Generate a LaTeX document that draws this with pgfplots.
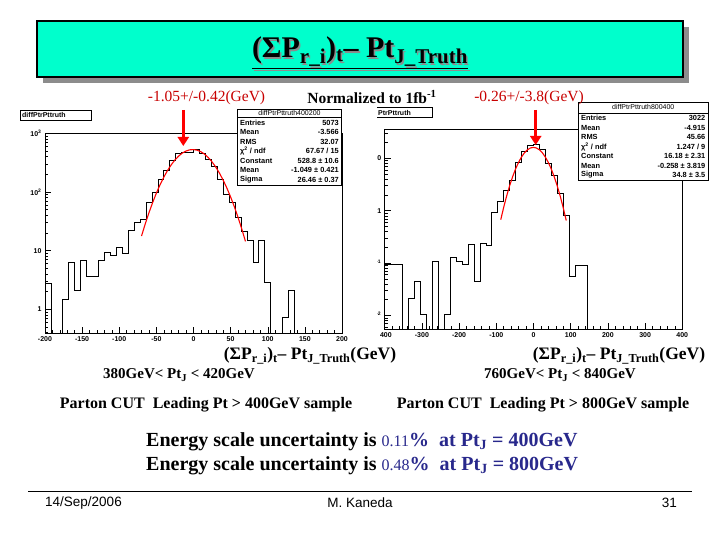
\documentclass[border=0pt]{standalone}
\usepackage{pgfplots}
\pgfplotsset{compat=1.18}
\usetikzlibrary{arrows.meta}
\usepackage{fontspec}
\setmainfont{Liberation Serif}
\newfontfamily\arial{Liberation Sans}
\definecolor{titlecyan}{RGB}{0,255,204}
\definecolor{navy}{RGB}{40,40,140}
\definecolor{darkred}{RGB}{200,0,0}

\pgfplotstableread{
x y
-200 0.001
-200 2.8
-192 0.001
-184 0.001
-176 1.45
-168 6.3
-160 2.1
-152 6.9
-144 3.7
-136 3.7
-128 6.9
-120 9.2
-112 8.4
-104 11.4
-96 9.0
-88 21.9
-80 30
-72 34
-64 66
-56 98
-48 166
-40 237
-32 342
-24 457
-16 475
-8 475
0 523
8 457
16 365
24 277
32 165
40 92
48 66
56 37
64 21.7
72 15.2
80 6.3
88 15.2
96 2.85
104 0.001
112 0.001
120 0.73
128 2.1
136 0.001
200 0.001
}\histA

\pgfplotstableread{
x y
-400 0.0001
-400 0.095
-384 0.095
-368 0.095
-352 0.0001
-336 0.021
-320 0.045
-304 0.0105
-288 0.0001
-272 0.106
-256 0.0001
-240 0.0105
-224 0.126
-208 0.106
-192 0.095
-176 0.228
-160 0.045
-144 0.238
-128 0.22
-112 0.92
-96 1.53
-80 2.48
-64 3.86
-48 8.3
-32 13.5
-16 17.5
0 18.7
16 15.1
32 8.0
48 4.8
64 2.14
80 0.80
96 0.056
112 0.091
128 0.091
144 0.0001
400 0.0001
}\histB

\begin{document}
\begin{tikzpicture}[x=1pt,y=1pt]
\useasboundingbox (0,0) rectangle (720,-540);
\fill[white] (0,0) rectangle (720,-540);

% ---------- title box
\fill[black!45] (43,-27) rectangle (689,-83);
\filldraw[fill=titlecyan, draw=black, line width=1.2pt] (37,-21) rectangle (683,-77);
\node[anchor=base, text=black!45, font=\fontsize{30}{32}\selectfont\bfseries, inner sep=0pt] at (361.5,-59.5)
  {\underline{(ΣP\textsubscript{r\_i})\textsubscript{t}– Pt\textsubscript{J\_Truth}}};
\node[anchor=base, font=\fontsize{30}{32}\selectfont\bfseries, inner sep=0pt] at (360,-58)
  {\underline{(ΣP\textsubscript{r\_i})\textsubscript{t}– Pt\textsubscript{J\_Truth}}};

% ---------- right histogram (behind)
\begin{axis}[
  scale only axis, ymode=log,
  axis line style={black, line width=0.7pt},
  tick pos=left, tick align=inside,
  major tick length=6pt, minor tick length=3pt,
  tick style={black, line width=0.5pt},
  ticklabel style={font=\arial\bfseries\fontsize{7}{8}\selectfont},
  at={(384.7pt,-329pt)}, anchor=south west,
  width=297.6pt, height=199.3pt,
  xmin=-400, xmax=400, ymin=0.0055, ymax=35.2,
  xtick={-400,-300,...,400},
  xticklabels={-400,-300,-200,-100,0,100,200,300,400},
  minor xtick={-380,-360,...,380},
  ytick={0.01,0.1,1,10},
  yticklabels={10\textsuperscript{-2},10\textsuperscript{-1},1,10},
  minor ytick={0.006,0.007,0.008,0.009,0.02,0.03,0.04,0.05,0.06,0.07,0.08,0.09,0.2,0.3,0.4,0.5,0.6,0.7,0.8,0.9,2,3,4,5,6,7,8,9,20,30},
]
\addplot[const plot, black, line width=0.7pt] table[x=x,y=y] {\histB};
\addplot[red, line width=1.1pt] coordinates {
(-88,0.6739) (-80,1.1717) (-72,1.9324) (-64,3.0231) (-56,4.4859) (-48,6.3137)
(-40,8.4290) (-32,10.6738) (-24,12.8204) (-16,14.6064) (-8,15.7844) (0,16.1796)
(8,15.7309) (16,14.5073) (24,12.6900) (32,10.5291) (40,8.2866) (48,6.1859)
(56,4.3801) (64,2.9417) (72,1.8740) (80,1.1324) (88,0.6490)};
\end{axis}

% left picture covers part of the right one
\fill[white] (343,-100) rectangle (377,-350);
\fill[white] (343,-331) rectangle (379.5,-350);

% ---------- left histogram
\begin{axis}[
  scale only axis, ymode=log,
  axis line style={black, line width=0.7pt},
  tick pos=left, tick align=inside,
  major tick length=6pt, minor tick length=3pt,
  tick style={black, line width=0.5pt},
  ticklabel style={font=\arial\bfseries\fontsize{7}{8}\selectfont},
  at={(45pt,-333.3pt)}, anchor=south west,
  width=297pt, height=200pt,
  xmin=-200, xmax=200, ymin=0.39, ymax=1000,
  xtick={-200,-150,...,200},
  xticklabels={-200,-150,-100,-50,0,50,100,150,200},
  minor xtick={-190,-180,...,190},
  ytick={1,10,100,1000},
  yticklabels={1,10,10\textsuperscript{2},10\textsuperscript{3}},
  minor ytick={0.4,0.5,0.6,0.7,0.8,0.9,2,3,4,5,6,7,8,9,20,30,40,50,60,70,80,90,200,300,400,500,600,700,800,900},
]
\addplot[const plot, black, line width=0.7pt] table[x=x,y=y] {\histA};
\addplot[red, line width=1.1pt] coordinates {
(-70,17.74) (-65,28.50) (-60,44.20) (-55,66.15) (-50,95.52) (-45,133.10)
(-40,178.96) (-35,232.16) (-30,290.63) (-25,351.04) (-20,409.17) (-15,460.18)
(-10,499.39) (-5,522.94) (0,528.38) (5,515.16) (10,484.65) (15,439.95)
(20,385.37) (25,325.72) (30,265.65) (35,209.05) (40,158.74) (45,116.30)
(50,82.22) (55,56.09) (60,36.93) (65,23.45) (70,14.38)};
\end{axis}

% ---------- ROOT title boxes
\draw[black, line width=0.6pt, fill=white] (20,-110) rectangle (91,-120.7);
\node[font=\arial\bfseries\fontsize{7}{8}\selectfont, anchor=west, inner sep=0pt] at (22,-115.4) {diffPtrPttruth};
\fill[white] (377,-107.7) rectangle (432,-117.3);
\draw[black, line width=0.6pt] (377,-107.7) -- (432,-107.7) -- (432,-117.3) -- (377,-117.3);
\node[font=\arial\bfseries\fontsize{7}{8}\selectfont, anchor=west, inner sep=0pt] at (378,-112.5) {PtrPttruth};

% ---------- stats boxes
\def\statfont{\arial\bfseries\fontsize{7.4}{8}\selectfont}
\filldraw[fill=white, draw=black, line width=0.6pt] (237.3,-109) rectangle (341.7,-185);
\draw[black, line width=0.6pt] (237.3,-117.3) -- (341.7,-117.3);
\node[font=\arial\fontsize{7}{7.5}\selectfont, inner sep=0pt] at (289.5,-113.2) {diffPtrPttruth400200};
\foreach \lab/\val [count=\i from 0] in {Entries/5073, Mean/-3.566, RMS/32.07, {χ\textsuperscript{2} / ndf}/{67.67 / 15}, Constant/528.8 ± 10.6, Mean/-1.049 ± 0.421, Sigma/26.46 ± 0.37}{
  \node[font=\statfont, anchor=west, inner sep=0pt] at (240,-122.5-9.55*\i) {\lab};
  \node[font=\statfont, anchor=east, inner sep=0pt] at (339,-122.5-9.55*\i) {\val};
}
\filldraw[fill=white, draw=black, line width=0.6pt] (578.3,-102) rectangle (708.3,-180.7);
\draw[black, line width=0.6pt] (578.3,-113) -- (708.3,-113);
\node[font=\arial\fontsize{7}{7.5}\selectfont, inner sep=0pt] at (643.3,-107.5) {diffPtrPttruth800400};
\foreach \lab/\val [count=\i from 0] in {Entries/3022, Mean/-4.915, RMS/45.66, {χ\textsuperscript{2} / ndf}/{1.247 / 9}, Constant/16.18 ± 2.31, Mean/-0.258 ± 3.819, Sigma/34.8 ± 3.5}{
  \node[font=\statfont, anchor=west, inner sep=0pt] at (581,-118.3-9.45*\i) {\lab};
  \node[font=\statfont, anchor=east, inner sep=0pt] at (705.5,-118.3-9.45*\i) {\val};
}

% ---------- annotations above plots
\node[text=darkred, font=\fontsize{15.5}{16}\selectfont, inner sep=0pt] at (206.5,-98) {-1.05+/-0.42(GeV)};
\node[text=darkred, font=\fontsize{15.5}{16}\selectfont, inner sep=0pt] at (529,-98) {-0.26+/-3.8(GeV)};
\node[font=\fontsize{15.5}{16}\selectfont\bfseries, inner sep=0pt] at (372,-97) {Normalized to 1fb\textsuperscript{-1}};
\draw[red, line width=3.5pt, -{Triangle[width=11pt,length=9pt]}] (183.3,-110) -- (183.3,-146);
\draw[red, line width=3.5pt, -{Triangle[width=11pt,length=9pt]}] (535.7,-110) -- (535.7,-145);

% ---------- texts below plots
\node[font=\fontsize{17.5}{18}\selectfont\bfseries, inner sep=0pt] at (310,-356)
  {(ΣP\textsubscript{r\_i})\textsubscript{t}– Pt\textsubscript{J\_Truth}(GeV)};
\node[font=\fontsize{17.5}{18}\selectfont\bfseries, inner sep=0pt] at (619,-356)
  {(ΣP\textsubscript{r\_i})\textsubscript{t}– Pt\textsubscript{J\_Truth}(GeV)};
\node[font=\fontsize{15}{16}\selectfont\bfseries, inner sep=0pt] at (179,-375)
  {380GeV< Pt\textsubscript{J} < 420GeV};
\node[font=\fontsize{15}{16}\selectfont\bfseries, inner sep=0pt] at (560,-375)
  {760GeV< Pt\textsubscript{J} < 840GeV};
\node[font=\fontsize{16}{17}\selectfont\bfseries, inner sep=0pt] at (206,-405)
  {Parton CUT\ \ Leading Pt > 400GeV sample};
\node[font=\fontsize{16}{17}\selectfont\bfseries, inner sep=0pt] at (543,-405)
  {Parton CUT\ \ Leading Pt > 800GeV sample};

\node[anchor=base west, font=\fontsize{20}{21}\selectfont\bfseries, inner sep=0pt] at (146,-446)
  {Energy scale uncertainty is \textcolor{navy}{\mdseries\fontsize{16}{17}\selectfont 0.11}\textcolor{navy}{\%\ \ at Pt\textsubscript{J} = 400GeV}};
\node[anchor=base west, font=\fontsize{20}{21}\selectfont\bfseries, inner sep=0pt] at (146,-470)
  {Energy scale uncertainty is \textcolor{navy}{\mdseries\fontsize{16}{17}\selectfont 0.48}\textcolor{navy}{\%\ \ at Pt\textsubscript{J} = 800GeV}};

% ---------- footer
\draw[black, line width=1pt] (28,-491) -- (692,-491);
\node[font=\arial\fontsize{13.5}{14}\selectfont, anchor=west, inner sep=0pt] at (45,-503) {14/Sep/2006};
\node[font=\arial\fontsize{13.5}{14}\selectfont, inner sep=0pt] at (360,-503) {M. Kaneda};
\node[font=\arial\fontsize{13.5}{14}\selectfont, anchor=east, inner sep=0pt] at (677,-503) {31};
\end{tikzpicture}
\end{document}
